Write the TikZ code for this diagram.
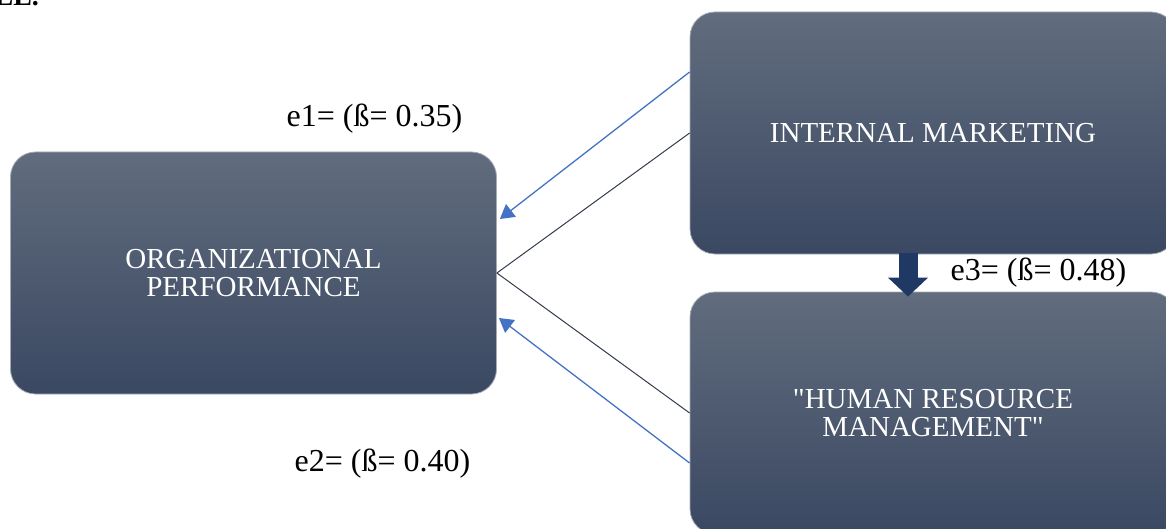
\documentclass[tikz,border=0pt]{standalone}
\usepackage{fontspec}
\setmainfont{Liberation Serif}
\newfontfamily\boxfont[Ligatures=TeXOff]{Liberation Serif}
\usepackage{tikz}
\usetikzlibrary{arrows.meta}
\usetikzlibrary{calc}
\definecolor{boxtop}{RGB}{97,108,125}
\definecolor{boxbot}{RGB}{58,72,98}
\definecolor{boxedge}{RGB}{165,172,184}
\definecolor{linkblue}{RGB}{68,114,196}
\definecolor{linkdark}{RGB}{50,60,76}
\definecolor{navy}{RGB}{31,56,100}
\tikzstyle{factor} = [rectangle, rounded corners=12.5pt, minimum width=243pt, minimum height=121pt, top color=boxtop, bottom color=boxbot, draw=boxedge, line width=0.4pt, text=white, align=center, font=\boxfont\fontsize{14.5}{14}\selectfont]
\tikzstyle{effect} = [linkblue, line width=0.65pt, -{Triangle[length=7pt,width=8pt]}]
\tikzstyle{plain} = [linkdark, line width=0.5pt]
\tikzstyle{coef} = [font=\fontsize{16}{18}\selectfont]

\begin{document}
\begin{tikzpicture}[x=0.5pt,y=-0.5pt]
			\useasboundingbox (0,0) rectangle (1166,529);
			\node[anchor=base east,font=\fontsize{14}{16}\selectfont\bfseries] (head) at (46,6) {LE.};
			\node[factor] (OP) at (253.5,273) {ORGANIZATIONAL\\PERFORMANCE};
			\node[factor] (IM) at (933,133) {INTERNAL MARKETING};
			\node[factor] (HRM) at (933,413) {"HUMAN RESOURCE\\MANAGEMENT"};
			\draw[effect] ($(IM.west)+(0,-61)$) -- ($(OP.east)+(3,-54)$);
			\draw[plain] (IM.west) -- (OP.east);
			\draw[plain] (OP.east) -- (HRM.west);
			\draw[effect] ($(HRM.west)+(0,50)$) -- ($(OP.east)+(2,45)$);
			\draw[navy, line width=9.5pt, -{Triangle[length=9.5pt,width=19.5pt]}] ($(IM.south)+(-25,-1)$) -- ($(HRM.north)+(-25,5)$);
			\node[coef] (e1) at (374.5,119) {e1= (ß= 0.35)};
			\node[coef] (e2) at (382.5,464) {e2= (ß= 0.40)};
			\node[coef] (e3) at (1038.5,273) {e3= (ß= 0.48)};
		\end{tikzpicture}
\end{document}
